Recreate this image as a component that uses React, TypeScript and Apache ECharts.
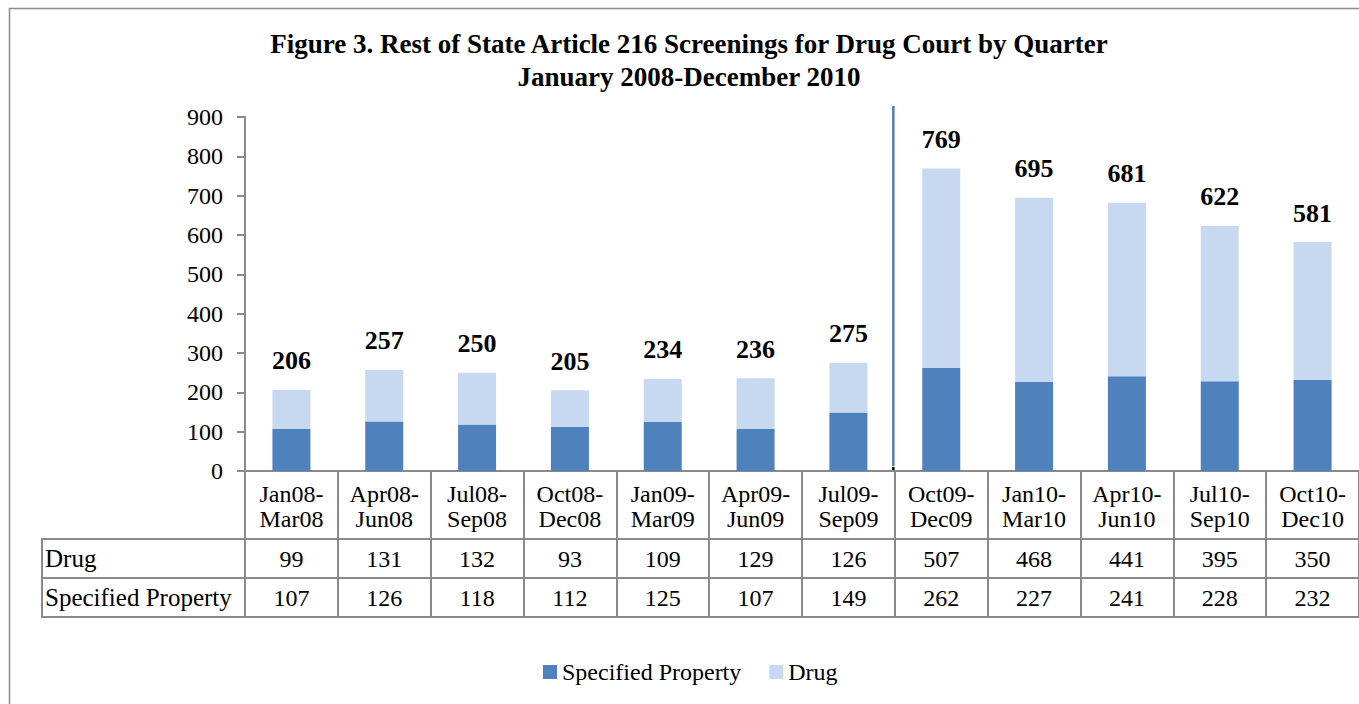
import React, { useEffect, useRef } from "react";
import * as echarts from "echarts";

const categories = [
  "Jan08-\nMar08", "Apr08-\nJun08", "Jul08-\nSep08", "Oct08-\nDec08",
  "Jan09-\nMar09", "Apr09-\nJun09", "Jul09-\nSep09", "Oct09-\nDec09",
  "Jan10-\nMar10", "Apr10-\nJun10", "Jul10-\nSep10", "Oct10-\nDec10",
];
const drug = [99, 131, 132, 93, 109, 129, 126, 507, 468, 441, 395, 350];
const specifiedProperty = [107, 126, 118, 112, 125, 107, 149, 262, 227, 241, 228, 232];
const totals = [206, 257, 250, 205, 234, 236, 275, 769, 695, 681, 622, 581];
const yTicks = { min: 0, max: 900, interval: 100 };

const FONT = "'Liberation Serif', 'Times New Roman', serif";
const GRAY = "#8a8a8a";
const DARK = "#4F81BD";
const LIGHT = "#C6D9F1";

export default function App() {
  const ref = useRef<HTMLDivElement>(null);
  useEffect(() => {
    if (!ref.current) return;
    const chart = echarts.init(ref.current, null, { renderer: "svg" });
    const tableAxis = (data: string[], offset: number, tickLen: number, margin: number, showLabel = true, showTick = true) => ({
      type: "category",
      data,
      position: "bottom",
      offset,
      axisLine: { show: true, lineStyle: { color: GRAY, width: 2 } },
      axisTick: { show: showTick, interval: 0, length: tickLen, alignWithLabel: false, lineStyle: { color: GRAY, width: 2 } },
      axisLabel: { show: showLabel, interval: 0, margin, fontSize: 24, color: "#000", fontFamily: FONT },
      splitLine: { show: false },
    });
    chart.setOption({
      animation: false,
      textStyle: { fontFamily: FONT },
      title: {
        text: "Figure 3. Rest of State Article 216 Screenings for Drug Court by Quarter\nJanuary 2008-December 2010",
        left: 689,
        top: 27,
        textAlign: "center",
        padding: 0,
        textStyle: { fontFamily: FONT, fontSize: 27, fontWeight: "bold", color: "#000", lineHeight: 33 },
      },
      legend: {
        data: ["Specified Property", "Drug"],
        left: 538,
        top: 655,
        icon: "rect",
        itemWidth: 14,
        itemHeight: 14,
        itemGap: 28,
        textStyle: { fontFamily: FONT, fontSize: 24, color: "#000" },
      },
      grid: { left: 245, top: 117, bottom: 233, right: -9, containLabel: false },
      xAxis: [
        {
          ...tableAxis(categories, 0, 68, 10),
          axisLabel: { interval: 0, margin: 10, fontSize: 24, lineHeight: 25, color: "#000", fontFamily: FONT },
        },
        tableAxis(drug.map(String), 68, 39, 8),
        tableAxis(specifiedProperty.map(String), 107, 39, 8),
        tableAxis(categories, 146, 0, 0, false, false),
      ],
      yAxis: {
        type: "value",
        min: yTicks.min,
        max: yTicks.max,
        interval: yTicks.interval,
        axisLine: { show: true, lineStyle: { color: GRAY, width: 2 } },
        axisTick: { show: true, length: 8, lineStyle: { color: GRAY, width: 2 } },
        splitLine: { show: false },
        axisLabel: { margin: 22, fontSize: 24, color: "#000", fontFamily: FONT },
      },
      series: [
        {
          name: "Specified Property",
          type: "bar",
          stack: "total",
          xAxisIndex: 0,
          data: specifiedProperty,
          barWidth: 38,
          itemStyle: { color: DARK },
        },
        {
          name: "Drug",
          type: "bar",
          stack: "total",
          xAxisIndex: 0,
          data: drug,
          barWidth: 38,
          itemStyle: { color: LIGHT },
          label: {
            show: true,
            position: "top",
            distance: 16,
            formatter: (p: any) => String(totals[p.dataIndex]),
            fontFamily: FONT,
            fontSize: 26,
            fontWeight: "bold",
            color: "#000",
          },
        },
      ],
    });

    const a = chart.convertToPixel({ xAxisIndex: 0 }, categories[6]) as number;
    const b = chart.convertToPixel({ xAxisIndex: 0 }, categories[7]) as number;
    const sepX = (a + b) / 2 - 1.5;
    const lineStyle = { stroke: GRAY, lineWidth: 2 };
    chart.setOption({
      graphic: [
        { type: "rect", silent: true, z: -10, shape: { x: 9.5, y: 8.5, width: 1420, height: 800 }, style: { fill: "none", stroke: "#8c8c8c", lineWidth: 1.5 } },
        { type: "line", silent: true, shape: { x1: 42, y1: 539, x2: 246, y2: 539 }, style: lineStyle },
        { type: "line", silent: true, shape: { x1: 42, y1: 578, x2: 246, y2: 578 }, style: lineStyle },
        { type: "line", silent: true, shape: { x1: 42, y1: 617, x2: 246, y2: 617 }, style: lineStyle },
        { type: "line", silent: true, shape: { x1: 42, y1: 538, x2: 42, y2: 618 }, style: lineStyle },
        { type: "text", silent: true, x: 45, y: 558.5, style: { text: "Drug", fontFamily: FONT, fontSize: 25, fill: "#000", verticalAlign: "middle", align: "left" } },
        { type: "text", silent: true, x: 45, y: 597.5, style: { text: "Specified Property", fontFamily: FONT, fontSize: 25, fill: "#000", verticalAlign: "middle", align: "left" } },
        { type: "line", silent: true, shape: { x1: sepX, y1: 106, x2: sepX, y2: 466 }, style: { stroke: "#4A7EBB", lineWidth: 2.5 } },
        { type: "line", silent: true, shape: { x1: sepX, y1: 467, x2: sepX, y2: 471 }, style: { stroke: "#000", lineWidth: 2.5 } },
      ],
    });
    return () => chart.dispose();
  }, []);
  return <div ref={ref} style={{ position: "fixed", left: 0, top: 0, width: 1359, height: 704, background: "#fff" }} />;
}
